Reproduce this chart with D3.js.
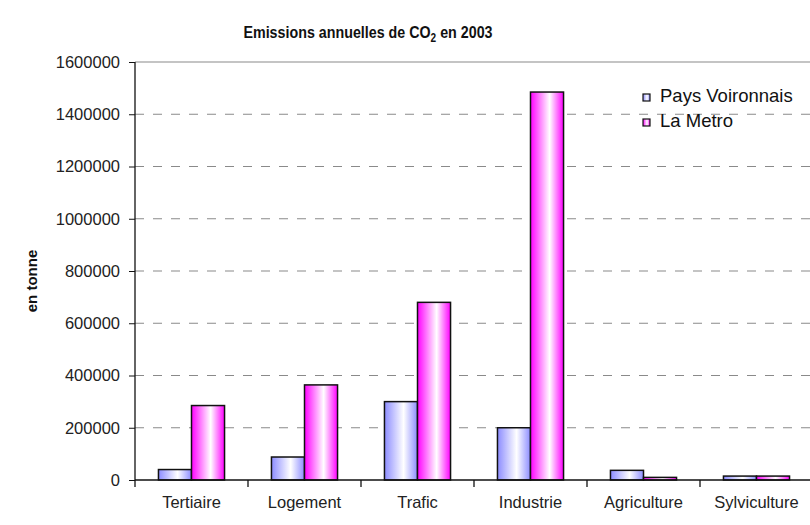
<!DOCTYPE html>
<html>
<head>
<meta charset="utf-8">
<script src="https://cdn.jsdelivr.net/npm/d3@7"></script>
<style>
  html, body { margin: 0; padding: 0; background: #fff; }
  svg { display: block; font-family: "Liberation Sans", Arial, sans-serif; }
</style>
</head>
<body>
<svg id="chart" width="810" height="525"></svg>
<script>
// Annual CO2 emissions per sector, 2003 (tonnes)
const categories = ["Tertiaire", "Logement", "Trafic", "Industrie", "Agriculture", "Sylviculture"];
const seriesNames = ["Pays Voironnais", "La Metro"];
const paysVoironnais = [40000, 88000, 300000, 200000, 37000, 15000];
const laMetro = [285000, 364000, 680000, 1485000, 10000, 15000];
const yTicks = [0, 200000, 400000, 600000, 800000, 1000000, 1200000, 1400000, 1600000];

const svg = d3.select("#chart");
const W = 810, H = 525;
const plotLeft = 135, plotTop = 62, plotW = 678, plotH = 418;

const x = d3.scaleBand().domain(categories).range([plotLeft, plotLeft + plotW]).paddingInner(0).paddingOuter(0);
const x1 = d3.scaleBand().domain(seriesNames).range([0, x.bandwidth()]).paddingOuter(0.71).paddingInner(0);
const y = d3.scaleLinear().domain([0, 1600000]).range([plotTop + plotH, plotTop]);

// Horizontal gradients for bar fills
const defs = svg.append("defs");
const fills = [
  { id: "gBlue", edge: "#8c8cff", mid: "#ffffff" },
  { id: "gPink", edge: "#ff00ff", mid: "#ffffff" }
];
fills.forEach(f => {
  const g = defs.append("linearGradient").attr("id", f.id)
    .attr("x1", "0%").attr("x2", "100%").attr("y1", "0%").attr("y2", "0%");
  g.append("stop").attr("offset", "0%").attr("stop-color", f.edge);
  g.append("stop").attr("offset", "58%").attr("stop-color", f.mid);
  g.append("stop").attr("offset", "100%").attr("stop-color", f.edge);
});
const fillFor = { "Pays Voironnais": "url(#gBlue)", "La Metro": "url(#gPink)" };

// Gridlines
svg.append("g").selectAll("line").data(yTicks.filter(d => d > 0)).join("line")
  .attr("x1", plotLeft).attr("x2", W)
  .attr("y1", d => y(d)).attr("y2", d => y(d))
  .attr("stroke", "#8a8a8a").attr("stroke-width", 1.2)
  .attr("stroke-dasharray", d => d === 1600000 ? null : "9,9");

// Bars
const rows = categories.map((c, i) => ({
  cat: c,
  vals: [
    { s: seriesNames[0], v: paysVoironnais[i] },
    { s: seriesNames[1], v: laMetro[i] }
  ]
}));
svg.append("g").selectAll("g").data(rows).join("g")
  .attr("transform", d => `translate(${x(d.cat)},0)`)
  .selectAll("rect").data(d => d.vals).join("rect")
  .attr("x", d => x1(d.s))
  .attr("width", x1.bandwidth())
  .attr("y", d => y(d.v))
  .attr("height", d => y(0) - y(d.v))
  .attr("fill", d => fillFor[d.s])
  .attr("stroke", "#111").attr("stroke-width", 1.5);

// Y axis
const yAxis = d3.axisLeft(y).tickValues(yTicks).tickFormat(d3.format("d")).tickSize(6).tickPadding(9);
const gy = svg.append("g").attr("transform", `translate(${plotLeft},0)`).call(yAxis);
gy.select(".domain").attr("d", `M0,${plotTop}V${plotTop + plotH + 7}`).attr("stroke", "#111").attr("stroke-width", 1.3);
gy.selectAll(".tick line").attr("stroke", "#111");
gy.selectAll(".tick text").attr("font-size", 16.5).attr("fill", "#222")
  .attr("font-family", "Liberation Sans, Arial, sans-serif");

// X axis
const xAxis = d3.axisBottom(x).tickSize(0).tickPadding(16);
const gx = svg.append("g").attr("transform", `translate(0,${y(0)})`).call(xAxis);
gx.select(".domain").attr("d", `M${plotLeft},0H${W}`).attr("stroke", "#111").attr("stroke-width", 1.3);
gx.selectAll(".tick text").attr("font-size", 16.5).attr("fill", "#222")
  .attr("font-family", "Liberation Sans, Arial, sans-serif");
svg.append("g").selectAll("line").data(categories.slice(1)).join("line")
  .attr("x1", d => x(d)).attr("x2", d => x(d))
  .attr("y1", y(0)).attr("y2", y(0) + 7)
  .attr("stroke", "#111").attr("stroke-width", 1.3);

// Title (condensed, with subscript)
const title = svg.append("text")
  .attr("transform", "translate(368,38) scale(0.84,1)")
  .attr("text-anchor", "middle")
  .attr("font-size", 17).attr("font-weight", "bold").attr("fill", "#111");
title.append("tspan").text("Emissions annuelles de CO");
title.append("tspan").attr("dy", 4).attr("font-size", 12).text("2");
title.append("tspan").attr("dy", -4).text(" en 2003");

// Y axis label
svg.append("text")
  .attr("transform", "translate(37,281) rotate(-90)")
  .attr("text-anchor", "middle")
  .attr("font-size", 15).attr("font-weight", "bold").attr("fill", "#111")
  .text("en tonne");

// Legend
const legend = svg.append("g").attr("transform", "translate(643,94)");
seriesNames.forEach((s, i) => {
  const g = legend.append("g").attr("transform", `translate(0,${i * 25})`);
  g.append("rect").attr("width", 7).attr("height", 7)
    .attr("fill", fillFor[s]).attr("stroke", "#111").attr("stroke-width", 1.2);
  g.append("text").attr("x", 17).attr("y", 8)
    .attr("font-size", 18.5).attr("fill", "#111").text(s);
});
</script>
</body>
</html>
